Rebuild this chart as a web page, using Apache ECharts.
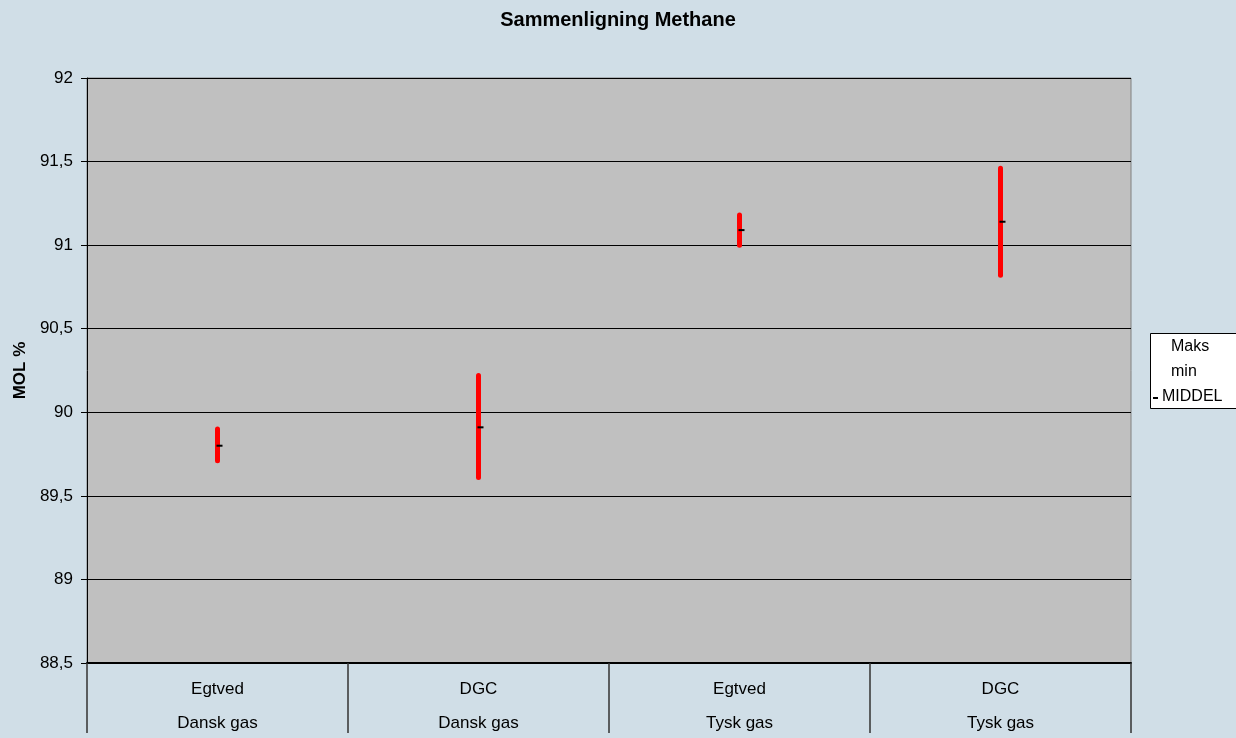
<!DOCTYPE html>
<html>
<head>
<meta charset="utf-8">
<title>Sammenligning Methane</title>
<script src="https://cdn.jsdelivr.net/npm/echarts@6/dist/echarts.min.js"></script>
<style>
  html, body { margin: 0; padding: 0; background: #D0DEE7; }
  #chart { width: 1236px; height: 738px; }
</style>
</head>
<body>
<div id="chart"></div>
<script>
// Methane content (MOL %) per laboratory and gas source
const labs = ['Egtved', 'DGC', 'Egtved', 'DGC'];
const gasTypes = ['Dansk gas', 'Dansk gas', 'Tysk gas', 'Tysk gas'];
const maks = [89.90, 90.22, 91.18, 91.46];
const minVals = [89.71, 89.61, 91.00, 90.82];
const middel = [89.80, 89.91, 91.09, 91.14];
const yTicks = [88.5, 89, 89.5, 90, 90.5, 91, 91.5, 92];

const categories = labs.map((l, i) => l + '\n' + gasTypes[i]);
const rangeData = labs.map((_, i) => [i, maks[i], minVals[i], middel[i]]);

const FONT = '"Liberation Sans", Arial, sans-serif';

const chart = echarts.init(document.getElementById('chart'), null, { renderer: 'canvas' });

chart.setOption({
  backgroundColor: '#D0DEE7',
  animation: false,
  title: {
    text: 'Sammenligning Methane',
    left: 'center',
    top: 5,
    textStyle: { fontFamily: FONT, fontSize: 20, fontWeight: 'bold', color: '#000' }
  },
  grid: {
    left: 87, right: 105, top: 78, bottom: 75,
    outerBoundsMode: 'none',
    containLabel: false,
    show: true,
    backgroundColor: '#C0C0C0',
    borderColor: '#808080',
    borderWidth: 1
  },
  xAxis: {
    type: 'category',
    data: categories,
    boundaryGap: true,
    axisLine: { show: true, lineStyle: { color: '#000', width: 2 } },
    axisTick: { show: true, length: 70, lineStyle: { color: '#333', width: 1.5 } },
    axisLabel: {
      margin: 9,
      fontFamily: FONT,
      fontSize: 17,
      lineHeight: 34,
      color: '#000'
    },
    splitLine: { show: false }
  },
  yAxis: {
    type: 'value',
    min: yTicks[0],
    max: yTicks[yTicks.length - 1],
    interval: 0.5,
    name: 'MOL %',
    nameLocation: 'middle',
    nameGap: 55,
    nameTextStyle: { fontFamily: FONT, fontSize: 17, fontWeight: 'bold', color: '#000' },
    axisLine: { show: true, lineStyle: { color: '#000', width: 1 } },
    axisTick: { show: true, length: 6, lineStyle: { color: '#000' } },
    axisLabel: {
      margin: 14,
      fontFamily: FONT,
      fontSize: 17,
      color: '#000',
      formatter: v => String(v).replace('.', ',')
    },
    splitLine: { show: true, lineStyle: { color: '#000', width: 1 } }
  },
  series: [{
    type: 'custom',
    name: 'Methane',
    data: rangeData,
    encode: { x: 0, y: [1, 2, 3] },
    renderItem: function (params, api) {
      const idx = api.value(0);
      const top = api.coord([idx, api.value(1)]);
      const bottom = api.coord([idx, api.value(2)]);
      const mid = api.coord([idx, api.value(3)]);
      return {
        type: 'group',
        children: [
          {
            type: 'line',
            shape: { x1: top[0], y1: top[1], x2: bottom[0], y2: bottom[1] },
            style: { stroke: '#FF0000', lineWidth: 5, lineCap: 'round' }
          },
          {
            type: 'line',
            shape: { x1: mid[0] - 1, y1: mid[1], x2: mid[0] + 5, y2: mid[1] },
            style: { stroke: '#000', lineWidth: 2 }
          }
        ]
      };
    }
  }],
  graphic: [
    {
      type: 'rect',
      left: 1150, top: 333,
      shape: { width: 100, height: 75 },
      style: { fill: '#FFFFFF', stroke: '#000', lineWidth: 1 }
    },
    {
      type: 'text', left: 1171, top: 339,
      style: { text: 'Maks', fontFamily: FONT, fontSize: 16, fill: '#000' }
    },
    {
      type: 'text', left: 1171, top: 364,
      style: { text: 'min', fontFamily: FONT, fontSize: 16, fill: '#000' }
    },
    {
      type: 'line',
      shape: { x1: 1153, y1: 398, x2: 1158, y2: 398 },
      style: { stroke: '#000', lineWidth: 2 }
    },
    {
      type: 'text', left: 1162, top: 389,
      style: { text: 'MIDDEL', fontFamily: FONT, fontSize: 16, fill: '#000' }
    }
  ]
});
</script>
</body>
</html>
